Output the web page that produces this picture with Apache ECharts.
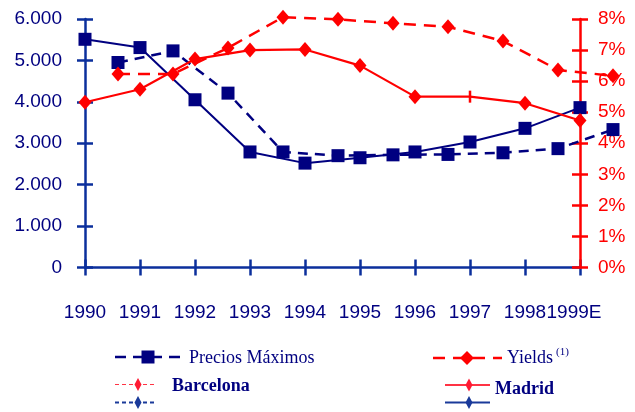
<!DOCTYPE html>
<html>
<head>
<meta charset="utf-8">
<script src="https://cdn.jsdelivr.net/npm/echarts@6/dist/echarts.min.js"></script>
<style>
  html, body { margin: 0; padding: 0; background: #ffffff; }
  #chart { width: 635px; height: 412px; }
</style>
</head>
<body>
<div id="chart"></div>
<script>
// Años del eje horizontal
const years = ['1990', '1991', '1992', '1993', '1994', '1995', '1996', '1997', '1998', '1999E'];

// Precios máximos (eje izquierdo)
const madridPrecios = [5510, 5310, 4050, 2790, 2520, 2650, 2790, 3030, 3360, 3860];
const barcelonaPrecios = [4950, 5230, 4210, 2790, 2700, 2720, 2730, 2770, 2870, 3330];

// Yields en % (eje derecho)
const madridYields = [5.32, 5.74, 6.71, 7.0, 7.02, 6.5, 5.5, 5.5, 5.29, 4.73];
const barcelonaYields = [6.23, 6.23, 7.07, 8.06, 7.99, 7.86, 7.75, 7.29, 6.36, 6.17];

// Escalas de los ejes
const preciosMin = 0, preciosMax = 6000, preciosStep = 1000;
const yieldsMin = 0, yieldsMax = 8, yieldsStep = 1;

const NAVY = '#000080';
const AXIS_BLUE = '#0b2f9c';
const RED = '#ff0000';
const SANS = '"Liberation Sans", Arial, sans-serif';
const SERIF = '"Liberation Serif", "Times New Roman", serif';

const chart = echarts.init(document.getElementById('chart'), null, { renderer: 'canvas' });

const gridTop = 19, gridBottom = 144.5;

// El dato de Madrid 1997 lleva una marca vertical en lugar de rombo
const madridYieldsData = madridYields.map((v, i) =>
  years[i] === '1997' ? { value: v, symbol: 'rect', symbolSize: [2.5, 12] } : v);

function diamond(cx, cy, w, h, color) {
  return {
    type: 'polygon',
    shape: { points: [[cx, cy - h / 2], [cx + w / 2, cy], [cx, cy + h / 2], [cx - w / 2, cy]] },
    style: { fill: color },
    z: 10
  };
}
function hline(x1, x2, y, color, width, dash) {
  return {
    type: 'line',
    shape: { x1: x1, y1: y, x2: x2, y2: y },
    style: { stroke: color, lineWidth: width, lineDash: dash || null },
    z: 9
  };
}
function label(x, y, text, size, weight, color) {
  return {
    type: 'text',
    x: x, y: y,
    style: {
      text: text, fill: color, font: weight + ' ' + size + 'px ' + SERIF,
      textVerticalAlign: 'middle', verticalAlign: 'middle'
    },
    z: 10
  };
}

const legendGraphics = [
  // Precios Máximos
  hline(115, 183, 357, NAVY, 2.5, [11, 7]),
  { type: 'rect', shape: { x: 141.5, y: 350.5, width: 13, height: 13 }, style: { fill: NAVY }, z: 10 },
  label(189, 358, 'Precios Máximos', 18, 'normal', NAVY),
  // Yields
  hline(433, 502, 358, RED, 2.5, [12, 8]),
  diamond(467, 358, 14, 14, RED),
  label(507, 358, 'Yields', 18, 'normal', NAVY),
  label(556, 352, '(1)', 11, 'normal', NAVY),
  // Barcelona
  hline(115, 157, 384.5, '#ff3344', 1.2, [4, 3]),
  diamond(138, 384.5, 7, 13, '#ff1a33'),
  hline(115, 157, 402.5, '#1a3a9a', 2, [4, 3]),
  diamond(138, 402.5, 7, 13, '#1a3a9a'),
  label(172, 386, 'Barcelona', 18, 'bold', NAVY),
  // Madrid
  hline(445, 490, 385, '#ff3344', 2),
  diamond(469, 385, 7, 13, '#ff1a33'),
  hline(445, 490, 402.5, '#1a3a9a', 2),
  diamond(469, 402.5, 7, 13, '#1a3a9a'),
  label(495, 389, 'Madrid', 18, 'bold', NAVY)
];

const option = {
  animation: false,
  backgroundColor: '#ffffff',
  grid: [
    { left: 85, right: 55, top: gridTop, bottom: gridBottom },
    // Barcelona se dibuja desplazada respecto a los años
    { left: 118, right: 22, top: gridTop, bottom: gridBottom }
  ],
  xAxis: [
    {
      gridIndex: 0, type: 'category', data: years, boundaryGap: false, position: 'bottom',
      axisLine: { lineStyle: { color: AXIS_BLUE, width: 2.5 } },
      axisTick: { show: true, length: 8, lineStyle: { color: AXIS_BLUE, width: 2.5 } },
      axisLabel: {
        color: NAVY, fontFamily: SANS, fontSize: 19, margin: 36, interval: 0,
        formatter: v => v === '1999E' ? '{e|' + v + '}' : v,
        rich: { e: { color: NAVY, fontFamily: SANS, fontSize: 19, padding: [0, 12, 0, 0] } }
      },
      splitLine: { show: false }
    },
    {
      gridIndex: 0, type: 'category', data: years, boundaryGap: false, position: 'bottom',
      axisLine: { show: false },
      axisTick: { show: true, inside: true, length: 8, lineStyle: { color: AXIS_BLUE, width: 2.5 } },
      axisLabel: { show: false },
      splitLine: { show: false }
    },
    {
      gridIndex: 1, type: 'category', data: years, boundaryGap: false, show: false
    }
  ],
  yAxis: [
    {
      gridIndex: 0, type: 'value', position: 'left',
      min: preciosMin, max: preciosMax, interval: preciosStep,
      axisLine: { show: true, lineStyle: { color: AXIS_BLUE, width: 2.5 } },
      axisTick: { show: true, length: 8, lineStyle: { color: AXIS_BLUE, width: 2.5 } },
      axisLabel: {
        color: NAVY, fontFamily: SANS, fontSize: 19, margin: 23,
        formatter: v => v === 0 ? '0' : (v / 1000).toFixed(3)
      },
      splitLine: { show: false }
    },
    {
      gridIndex: 0, type: 'value', position: 'right', z: 3,
      min: yieldsMin, max: yieldsMax, interval: yieldsStep,
      axisLine: { show: true, lineStyle: { color: RED, width: 2.5 } },
      axisTick: { show: true, length: 8, lineStyle: { color: RED, width: 2.5 } },
      axisLabel: { color: RED, fontFamily: SANS, fontSize: 19, margin: 18, formatter: '{value}%' },
      splitLine: { show: false }
    },
    {
      gridIndex: 0, type: 'value', position: 'left',
      min: preciosMin, max: preciosMax, interval: preciosStep,
      axisLine: { show: false },
      axisTick: { show: true, inside: true, length: 8, lineStyle: { color: AXIS_BLUE, width: 2.5 } },
      axisLabel: { show: false },
      splitLine: { show: false }
    },
    {
      gridIndex: 0, type: 'value', position: 'right', z: 3,
      min: yieldsMin, max: yieldsMax, interval: yieldsStep,
      axisLine: { show: false },
      axisTick: { show: true, inside: true, length: 8, lineStyle: { color: RED, width: 2.5 } },
      axisLabel: { show: false },
      splitLine: { show: false }
    },
    { gridIndex: 1, type: 'value', position: 'left', min: preciosMin, max: preciosMax, show: false },
    { gridIndex: 1, type: 'value', position: 'right', min: yieldsMin, max: yieldsMax, show: false }
  ],
  series: [
    {
      name: 'Precios Máximos Madrid', type: 'line', xAxisIndex: 0, yAxisIndex: 0,
      data: madridPrecios, symbol: 'rect', symbolSize: 13, clip: false,
      itemStyle: { color: NAVY }, lineStyle: { color: NAVY, width: 2 }
    },
    {
      name: 'Precios Máximos Barcelona', type: 'line', xAxisIndex: 2, yAxisIndex: 4,
      data: barcelonaPrecios, symbol: 'rect', symbolSize: 13, clip: false,
      itemStyle: { color: NAVY }, lineStyle: { color: NAVY, width: 2.5, type: [10, 7] }
    },
    {
      name: 'Yields Madrid', type: 'line', xAxisIndex: 0, yAxisIndex: 1,
      data: madridYieldsData, symbol: 'diamond', symbolSize: [13, 15], clip: false,
      itemStyle: { color: RED }, lineStyle: { color: RED, width: 2.2 }
    },
    {
      name: 'Yields Barcelona', type: 'line', xAxisIndex: 2, yAxisIndex: 5,
      data: barcelonaYields, symbol: 'diamond', symbolSize: [13, 15], clip: false,
      itemStyle: { color: RED }, lineStyle: { color: RED, width: 2.5, type: [12, 8] }
    }
  ],
  graphic: legendGraphics
};

chart.setOption(option);
</script>
</body>
</html>
